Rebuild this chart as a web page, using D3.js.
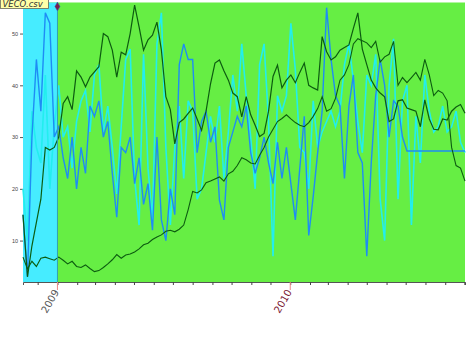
<!DOCTYPE html>
<html lang="en">
<head>
<meta charset="UTF-8">
<title>VECO.csv</title>
<script src="https://cdn.jsdelivr.net/npm/d3@7/dist/d3.min.js"></script>
<style>
  body { margin: 0; background: #fff; }
  svg { display: block; font-family: "DejaVu Sans", Arial, sans-serif; }
</style>
</head>
<body>
<svg id="chart" width="472" height="344"></svg>
<script>
'use strict';
// weekly readings, first week starts 2008-11-08
const startDate = new Date(2008, 10, 8);
const endDate = new Date(2010, 9, 2);
const bandEnd = new Date(2009, 0, 1);

const greenA = [15, 3, 9, 13.5, 18, 28, 27.5, 28, 30, 36.5, 37.8, 35.3, 42.8, 41.6, 39.7, 41.6, 42.6, 43.6, 50, 49.4,
  46.8, 41.6, 46.4, 45.9, 50, 55.5, 51.3, 46.8, 48.8, 49.7, 52.2, 46.8, 37.8, 35.3, 28.7, 32.8, 33.5, 34.6, 35.6, 33.5,
  31.3, 35, 40.3, 44.3, 44.9, 42.8, 41, 38.5, 37.8, 33.9, 37.8, 34.3, 32.3, 30.1, 30.7, 35, 41.7, 43.9, 39.5, 41,
  42, 40.5, 42.5, 44.3, 40, 39.5, 39.1, 49.4, 46.5, 44.9, 45.5, 46.8, 47.3, 47.8, 51, 54, 47, 44, 41, 39.5,
  38.5, 37.8, 33, 33.5, 37, 37.2, 35.6, 35.3, 35, 32, 37.2, 33.5, 31.5, 31.4, 33.5, 33.3, 35, 35.8, 36.3, 34.6];

const greenB = [6.8, 4.5, 6, 5, 6.6, 6.8, 6.5, 6.2, 6.8, 6.2, 5.5, 6, 5, 4.8, 5.3, 4.6, 4, 4.2, 4.8, 5.5,
  6.3, 7.3, 6.6, 7.2, 7.4, 7.8, 8.4, 9.2, 9.5, 10.2, 10.7, 11.1, 11.8, 12, 11.7, 12.2, 13, 16, 19.5, 19.2,
  19.8, 21.2, 21.5, 21.9, 22.3, 21.5, 22.9, 23.4, 24.5, 26, 25.6, 25, 24.8, 26.5, 28, 30, 31.5, 33, 33.6, 34.3,
  33.5, 32.8, 32.3, 32, 32.8, 34, 35.5, 37.8, 35, 35.5, 37.5, 41, 42, 44, 48, 49, 48.6, 48.2, 47.3, 48.5,
  44.5, 45.5, 46, 48.5, 40, 41.5, 40.5, 41.5, 42.5, 41, 45, 42, 38, 39, 38.5, 37, 28, 24.5, 24, 21.5];

const blue = [15, 3, 30, 45, 35, 54, 52, 30, 32, 26, 22, 30, 20, 28, 23, 36, 34, 37, 30, 33,
  23, 14.5, 28, 27, 30, 21, 26, 17, 21, 12, 30, 14, 10, 20, 15, 44, 48, 45, 45, 27,
  33, 35, 29, 32, 17.8, 14, 28, 31, 34, 32, 36, 27, 23, 26, 30, 25, 21, 29, 22, 28,
  21, 14, 24, 34, 11, 18.5, 27, 35, 55, 45, 38, 36, 22, 36, 42, 27, 25, 7, 25, 38,
  45, 40, 30, 37, 36, 30, 27.3, 27.3, 27.3, 27.3, 27.3, 27.3, 27.3, 27.3, 27.3, 27.3, 27.3, 27.3, 27.3, 27.3];

const cyan = [20, 10, 35, 28, 25, 42, 20, 32, 40, 30, 32, 24, 33, 37, 39, 31, 42, 44, 31, 36,
  28, 19, 32, 45, 47, 22, 13, 46, 24, 14, 48, 54, 28, 13, 28, 36, 22, 37, 35, 18,
  20, 27, 34, 29, 36, 22, 31, 42, 35, 48, 38, 30, 20, 44, 48, 33, 7, 38, 35, 38,
  52, 43, 28, 27, 20, 37, 28, 31, 33, 35, 32, 35, 44, 48, 41, 33, 27, 42, 40, 46,
  18, 10, 40, 49, 18, 37, 40, 13, 34, 25, 42, 35, 31, 32, 36, 31, 32, 35, 29, 27];

const yTicks = [10, 20, 30, 40, 50];
const yearLabels = ['2009', '2010'];

const dates = greenA.map((_, i) => d3.timeDay.offset(startDate, 7 * i));

const svg = d3.select('#chart');
const x = d3.scaleTime().domain([startDate, endDate]).range([23, 465]);
const y = d3.scaleLinear().domain([2, 56]).range([282, 2.5]);

// plot background
svg.append('rect')
  .attr('x', x(startDate)).attr('y', y(56))
  .attr('width', x(endDate) - x(startDate)).attr('height', y(2) - y(56))
  .attr('fill', '#66ee44');
svg.append('rect')
  .attr('x', x(startDate)).attr('y', y(56))
  .attr('width', x(bandEnd) - x(startDate)).attr('height', y(2) - y(56))
  .attr('fill', '#46ecff');

// y axis
const yAxis = svg.append('g').attr('transform', `translate(${x(startDate)},0)`)
  .call(d3.axisLeft(y).tickValues(yTicks).tickSize(3).tickPadding(2));
yAxis.select('.domain').remove();
yAxis.selectAll('line').attr('stroke', '#555');
yAxis.selectAll('text').attr('font-size', 5.5).attr('fill', '#444');

// x axis, monthly ticks
const xAxis = svg.append('g').attr('transform', `translate(0,${y(2)})`)
  .call(d3.axisBottom(x).ticks(d3.timeMonth.every(1)).tickSize(3).tickFormat(''));
xAxis.select('.domain').attr('stroke', '#555');
xAxis.selectAll('line').attr('stroke', '#444');

yearLabels.forEach((lab, k) => {
  const d = new Date(+lab, 0, 1);
  svg.append('line')
    .attr('x1', x(d)).attr('x2', x(d))
    .attr('y1', y(2)).attr('y2', y(2) + 8)
    .attr('stroke', '#e88');
  svg.append('text')
    .attr('transform', `translate(${x(d) + 2},${y(2) + 10}) rotate(-60)`)
    .attr('text-anchor', 'end')
    .attr('font-size', 10)
    .attr('fill', k === 0 ? '#555' : '#7a1430')
    .text(lab);
});

const line = vals => d3.line()
  .x((d, i) => x(dates[i]))
  .y(d => y(d))(vals);

const g = svg.append('g');
g.append('path').attr('d', line(cyan)).attr('fill', 'none')
  .attr('stroke', '#22eeee').attr('stroke-width', 1.6);
g.append('path').attr('d', line(blue)).attr('fill', 'none')
  .attr('stroke', '#1e8cf5').attr('stroke-width', 1.4);
g.append('path').attr('d', line(greenB)).attr('fill', 'none')
  .attr('stroke', '#0c5c10').attr('stroke-width', 1.1);
g.append('path').attr('d', line(greenA)).attr('fill', 'none')
  .attr('stroke', '#0c5c10').attr('stroke-width', 1.2);

// cursor line at start of 2009
svg.append('line')
  .attr('x1', x(bandEnd)).attr('x2', x(bandEnd))
  .attr('y1', y(56)).attr('y2', y(2))
  .attr('stroke', '#34a0b0').attr('stroke-width', 1);
svg.append('path')
  .attr('transform', `translate(${x(bandEnd)},${y(56) + 4})`)
  .attr('d', d3.symbol(d3.symbolDiamond, 22)())
  .attr('fill', '#7a2048').attr('stroke', '#3060c0').attr('stroke-width', 0.6);

// file label
svg.append('rect').attr('x', 0.5).attr('y', -1).attr('width', 48).attr('height', 9.5)
  .attr('fill', '#ffffa8').attr('stroke', '#665').attr('stroke-width', 0.8);
svg.append('text').attr('x', 2.5).attr('y', 7)
  .attr('font-size', 8.5).attr('font-style', 'italic').attr('fill', '#333')
  .text('VECO.csv');
</script>
</body>
</html>
